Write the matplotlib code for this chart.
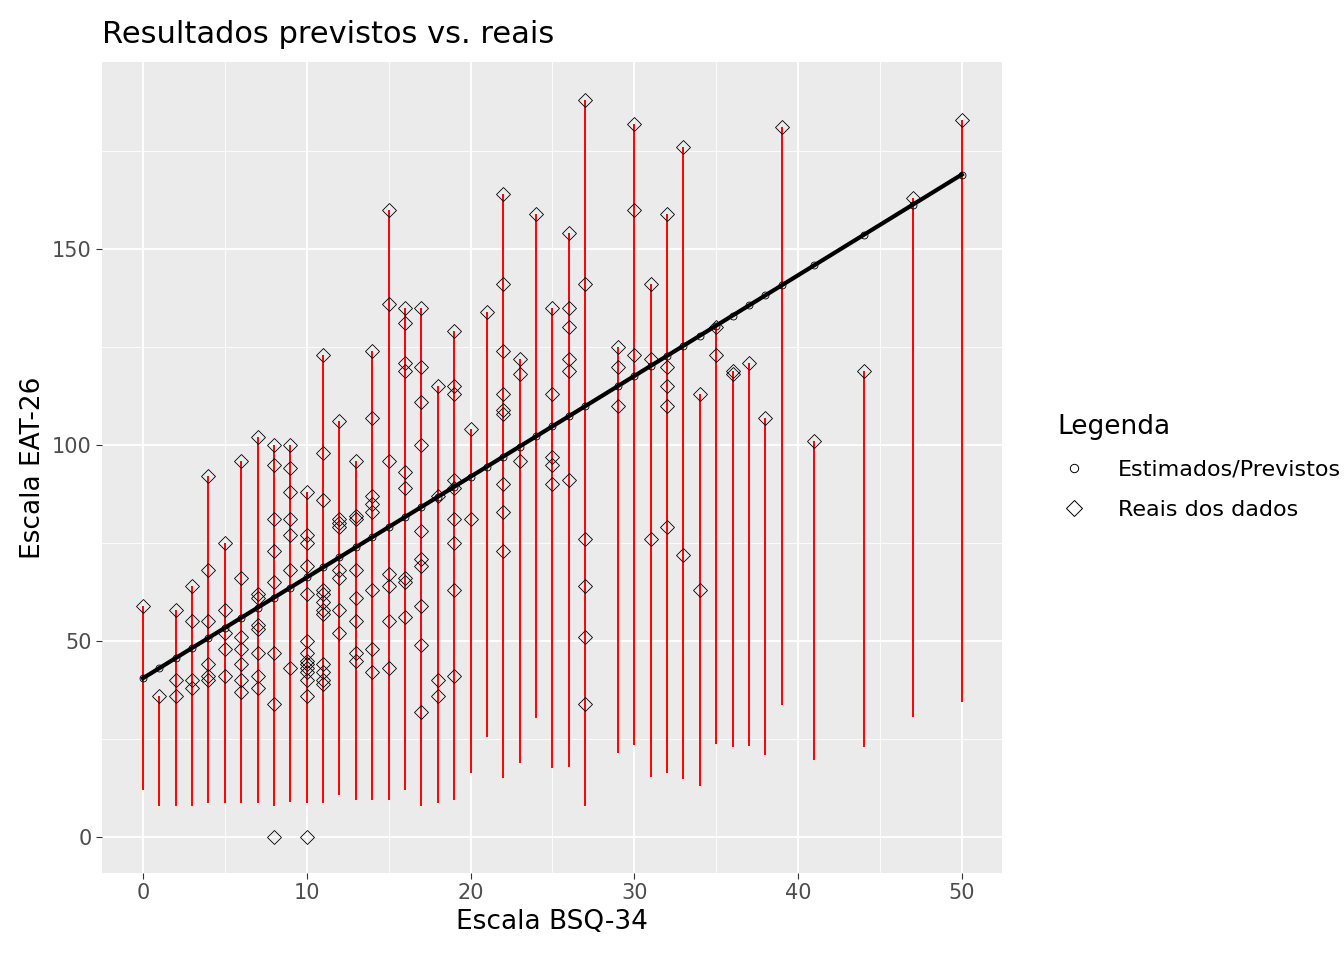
import matplotlib.pyplot as plt
from matplotlib.lines import Line2D
import numpy as np

# intervals per BSQ value: x, lower, upper
seg_x = [0, 1, 2, 3, 4, 5, 6, 7, 8, 9, 10, 11, 12, 13, 14, 15, 16, 17, 18, 19, 20, 21, 22, 23, 24, 25,
         26, 27, 29, 30, 31, 32, 33, 34, 35, 36, 37, 38, 39, 41, 44, 47, 50]
seg_lo = [12, 8, 8, 8, 8.7, 8.7, 8.7, 8.7, 7.9, 9, 8.7, 8.7, 10.7, 9.4, 9.4, 9.4, 12, 7.9, 8.7, 9.4, 16.3,
          25.5, 15, 18.9, 30.4, 17.6, 17.9, 7.9, 21.4, 23.5, 15.3, 16.3, 14.8, 13, 23.7, 23, 23.2, 21,
          33.7, 19.6, 23, 30.6, 34.4]
seg_hi = [59, 36, 58, 64, 92, 75, 96, 102, 100, 100, 88, 123, 106, 96, 124, 160, 135, 135, 115, 129, 104,
          134, 164, 122, 159, 135, 154, 188, 125, 182, 141, 159, 176, 113, 130, 119, 121, 107, 181, 101,
          119, 163, 183]

# observed EAT-26 values per BSQ value
obs = {
    0: [59], 1: [36], 2: [58, 40, 36], 3: [64, 55, 40, 38], 4: [92, 68, 55, 44, 41, 40],
    5: [75, 58, 52, 48, 41], 6: [96, 66, 51, 48, 44, 40, 37], 7: [102, 62, 61, 54, 53, 47, 41, 38],
    8: [100, 95, 81, 73, 65, 47, 34, 0], 9: [100, 94, 88, 81, 77, 68, 43],
    10: [88, 77, 75, 69, 62, 50, 47, 45, 44, 43, 42, 40, 36, 0],
    11: [123, 98, 86, 63, 62, 60, 58, 57, 44, 42, 40, 39], 12: [106, 81, 80, 79, 68, 66, 58, 52],
    13: [96, 82, 81, 68, 61, 55, 47, 45], 14: [124, 107, 87, 85, 83, 63, 48, 42],
    15: [160, 136, 96, 67, 64, 55, 43], 16: [135, 131, 121, 119, 93, 89, 66, 65, 56],
    17: [135, 120, 111, 100, 78, 71, 69, 59, 49, 32], 18: [115, 87, 40, 36],
    19: [129, 115, 113, 91, 89, 81, 75, 63, 41], 20: [104, 81], 21: [134],
    22: [164, 141, 124, 113, 109, 108, 90, 83, 73], 23: [122, 118, 96], 24: [159],
    25: [135, 113, 97, 95, 90], 26: [154, 135, 130, 122, 119, 91], 27: [188, 141, 76, 64, 51, 34],
    29: [125, 120, 110], 30: [182, 160, 123], 31: [141, 122, 76], 32: [159, 120, 115, 110, 79],
    33: [176, 72], 34: [113, 63], 35: [130, 123], 36: [119, 118], 37: [121], 38: [107], 39: [181],
    41: [101], 44: [119], 47: [163], 50: [183],
}

# fitted model
b0 = 40.5
b1 = 2.57

fig = plt.figure(figsize=(13.44, 9.6), dpi=100)
ax = fig.add_axes([0.0759, 0.0906, 0.6696, 0.8448])
ax.set_facecolor('#EBEBEB')
for s in ax.spines.values():
    s.set_visible(False)
ax.set_xlim(-2.5, 52.45)
ax.set_ylim(-9.2, 197.7)
ax.set_xticks([0, 10, 20, 30, 40, 50])
ax.set_yticks([0, 50, 100, 150])
ax.set_xticks([5, 15, 25, 35, 45], minor=True)
ax.set_yticks([25, 75, 125, 175], minor=True)
ax.grid(True, which='major', color='white', lw=1.3)
ax.grid(True, which='minor', color='white', lw=0.6)
ax.set_axisbelow(True)
ax.tick_params(which='both', length=0)
ax.tick_params(which='major', length=4, color='#333333', labelsize=15, labelcolor='#4D4D4D')

ax.vlines(seg_x, seg_lo, seg_hi, color='red', lw=1.4, zorder=2)

xs = [x for x, ys in obs.items() for _ in ys]
ys = [y for v in obs.values() for y in v]
ax.plot(xs, ys, 'D', ms=7.5, mfc='none', mec='black', mew=0.6, zorder=4)

px = np.array(sorted(obs.keys()))
py = b0 + b1 * px
ax.plot(px, py, color='black', lw=3, zorder=3)
ax.plot(px, py, 'o', ms=5, mfc='none', mec='black', mew=0.6, zorder=3)

ax.set_xlabel('Escala BSQ-34', fontsize=19)
ax.set_ylabel('Escala EAT-26', fontsize=19)
ax.set_title('Resultados previstos vs. reais', fontsize=22, loc='left', pad=14)

h1 = Line2D([], [], ls='none', marker='o', ms=6, mfc='none', mec='black', mew=0.7)
h2 = Line2D([], [], ls='none', marker='D', ms=8, mfc='none', mec='black', mew=0.7)
leg = fig.legend([h1, h2], ['Estimados/Previstos', 'Reais dos dados'], title='Legenda',
                 loc='upper left', bbox_to_anchor=(0.772, 0.59), frameon=False,
                 fontsize=16, title_fontsize=19, handlelength=1.5, handletextpad=1.2,
                 labelspacing=0.9)
leg._legend_box.align = 'left'

fig.savefig('out.png', dpi=100)
